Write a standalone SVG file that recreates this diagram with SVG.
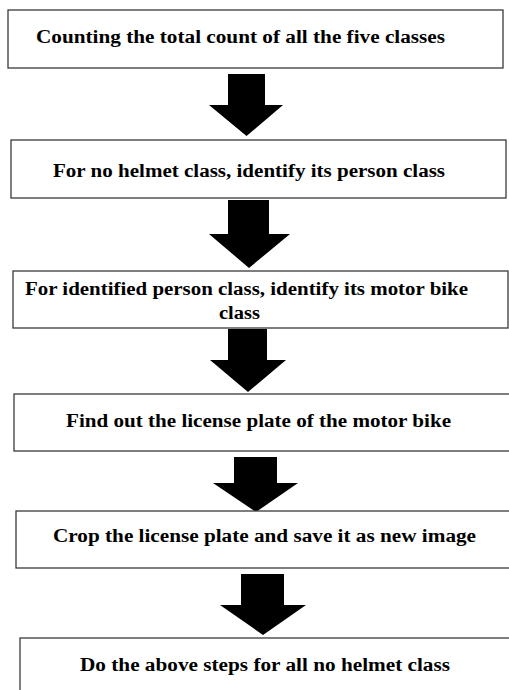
<svg xmlns="http://www.w3.org/2000/svg" width="509" height="690" viewBox="0 0 509 690">
<style>
.box{fill:#fff;stroke:#3a3a3a;stroke-width:1.3}
.arr{fill:#000}
</style>
<rect width="509" height="690" fill="#fff"/>
<g id="connectors">
<polygon class="arr" points="228,74 265,74 265,105 283,105 246.5,136 209,105 228,105"/>
<polygon class="arr" points="228,200 269,200 269,234 290,234 249,268 209,234 228,234"/>
<polygon class="arr" points="228,329 267,329 267,360 286,360 248,392 210,360 228,360"/>
<polygon class="arr" points="234,457 277,457 277,483 298,483 256,512 213,483 234,483"/>
<polygon class="arr" points="241,574 284,574 284,605 306,605 263,635 220,605 241,605"/>
</g>
<g font-family="Liberation Serif, Times New Roman, Times, serif" font-weight="bold" font-size="18" fill="#000">
<g id="n1">
<rect class="box" x="8" y="10" width="495" height="58"/>
<text x="36" y="43" textLength="409" lengthAdjust="spacingAndGlyphs">Counting the total count of all the five classes</text>
</g>
<g id="n2">
<rect class="box" x="11" y="140" width="495" height="58"/>
<text x="53" y="177" textLength="392" lengthAdjust="spacingAndGlyphs">For no helmet class, identify its person class</text>
</g>
<g id="n3">
<rect class="box" x="13" y="271" width="495" height="57"/>
<text x="25" y="295" textLength="443" lengthAdjust="spacingAndGlyphs">For identified person class, identify its motor bike</text>
<text x="219" y="319" textLength="41" lengthAdjust="spacingAndGlyphs">class</text>
</g>
<g id="n4">
<rect class="box" x="14" y="394" width="500" height="57"/>
<text x="66" y="427" textLength="385" lengthAdjust="spacingAndGlyphs">Find out the license plate of the motor bike</text>
</g>
<g id="n5">
<rect class="box" x="16" y="511" width="500" height="57"/>
<text x="53" y="542" textLength="423" lengthAdjust="spacingAndGlyphs">Crop the license plate and save it as new image</text>
</g>
<g id="n6">
<rect class="box" x="20" y="638" width="500" height="70"/>
<text x="80" y="671" textLength="370" lengthAdjust="spacingAndGlyphs">Do the above steps for all no helmet class</text>
</g>
</g>
</svg>
